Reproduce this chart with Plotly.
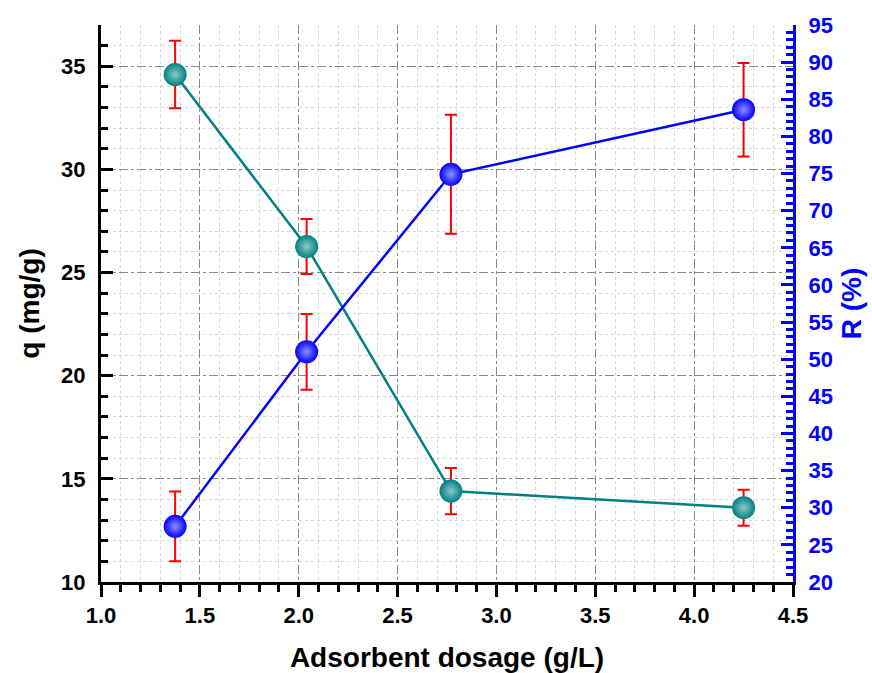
import plotly.graph_objects as go

dosage = [1.375, 2.04, 2.77, 4.25]
q_vals = [34.6, 26.26, 14.41, 13.6]
q_err = [1.64, 1.33, 1.12, 0.87]
r_vals = [27.5, 51.0, 74.9, 83.6]
r_err = [4.7, 5.1, 8.0, 6.3]

x_title = "Adsorbent dosage (g/L)"
yl_title = "q (mg/g)"
yr_title = "R (%)"

FONT = "Liberation Sans, Arial, sans-serif"
TEAL = "#008080"
BLUE = "#0000ff"
RED = "#ff0000"

fig = go.Figure()

fig.add_trace(go.Scatter(
    x=dosage, y=q_vals, mode="lines+markers", xaxis="x", yaxis="y",
    line=dict(color=TEAL, width=2.5),
    marker=dict(size=23, color=TEAL, gradient=dict(type="radial", color="#8cc9c9"),
                line=dict(width=0)),
    error_y=dict(type="data", array=q_err, color=RED, thickness=2, width=6),
    showlegend=False,
))
fig.add_trace(go.Scatter(
    x=dosage, y=r_vals, mode="lines+markers", xaxis="x", yaxis="y2",
    line=dict(color=BLUE, width=2.5),
    marker=dict(size=23, color=BLUE, gradient=dict(type="radial", color="#9090ff"),
                line=dict(width=0)),
    error_y=dict(type="data", array=r_err, color=RED, thickness=2, width=6),
    showlegend=False,
))

tickfont_black = dict(family=FONT, size=22, color="black", weight="bold")
tickfont_blue = dict(family=FONT, size=22, color=BLUE, weight="bold")
titlefont_black = dict(family=FONT, size=28, color="black", weight="bold")
titlefont_blue = dict(family=FONT, size=28, color=BLUE, weight="bold")

MINOR_GRID = "#d6d6d6"
MAJOR_GRID = "#8a8a8a"
xr = [1.0, 4.5]

fig.update_layout(
    width=872, height=673,
    margin=dict(l=101, r=79, t=25, b=91, autoexpand=False),
    paper_bgcolor="white", plot_bgcolor="white",
    xaxis=dict(
        range=xr, dtick=0.5, tick0=1.0, tickformat=".1f",
        ticks="outside", ticklen=12, tickwidth=2.5, tickcolor="black",
        showline=True, linecolor="black", linewidth=3,
        showgrid=True, gridcolor=MAJOR_GRID, griddash="dashdot", gridwidth=1,
        zeroline=False, tickfont=tickfont_black, automargin=False,
        title=dict(text=x_title, font=titlefont_black, standoff=20),
        minor=dict(dtick=0.1, ticks="outside", ticklen=7, tickwidth=2.5, tickcolor="black",
                   showgrid=True, gridcolor=MINOR_GRID, griddash="3px,3px", gridwidth=1),
        anchor="y",
    ),
    xaxis2=dict(
        range=xr, dtick=0.5, tick0=1.0, overlaying="x", side="bottom", anchor="y",
        ticks="inside", ticklen=12, tickwidth=2.5, tickcolor="black", automargin=False,
        showticklabels=False, showgrid=False, showline=False, zeroline=False,
        minor=dict(dtick=0.1, ticks="inside", ticklen=7, tickwidth=2.5, tickcolor="black",
                   showgrid=False),
    ),
    xaxis3=dict(
        range=xr, dtick=0.5, tick0=1.0, overlaying="x", side="top", anchor="y",
        ticks="inside", ticklen=10, tickwidth=2.5, tickcolor=BLUE, automargin=False,
        showticklabels=False, showgrid=False, showline=True, linecolor=BLUE, linewidth=3,
        zeroline=False,
        minor=dict(dtick=0.1, ticks="inside", ticklen=5, tickwidth=2.5, tickcolor=BLUE,
                   showgrid=False),
    ),
    yaxis=dict(
        range=[10, 37], dtick=5, tick0=10,
        ticks="inside", ticklen=12, tickwidth=2.5, tickcolor="black",
        showline=True, linecolor="black", linewidth=3, automargin=False,
        showgrid=True, gridcolor=MAJOR_GRID, griddash="dashdot", gridwidth=1,
        zeroline=False, tickfont=tickfont_black, ticklabelstandoff=8,
        title=dict(text=yl_title, font=titlefont_black, standoff=14),
        minor=dict(dtick=1, ticks="inside", ticklen=7, tickwidth=2.5, tickcolor="black",
                   showgrid=True, gridcolor=MINOR_GRID, griddash="3px,3px", gridwidth=1),
    ),
    yaxis2=dict(
        range=[20, 95], dtick=5, tick0=20, overlaying="y", side="right", anchor="x",
        ticks="inside", ticklen=12, tickwidth=2.5, tickcolor=BLUE, automargin=False,
        showline=True, linecolor=BLUE, linewidth=3,
        showgrid=False, zeroline=False, tickfont=tickfont_blue, ticklabelstandoff=8,
        title=dict(text=yr_title, font=titlefont_blue, standoff=10),
        minor=dict(dtick=1, ticks="inside", ticklen=7, tickwidth=2.5, tickcolor=BLUE,
                   showgrid=False),
    ),
)

fig.write_html("out.html")
